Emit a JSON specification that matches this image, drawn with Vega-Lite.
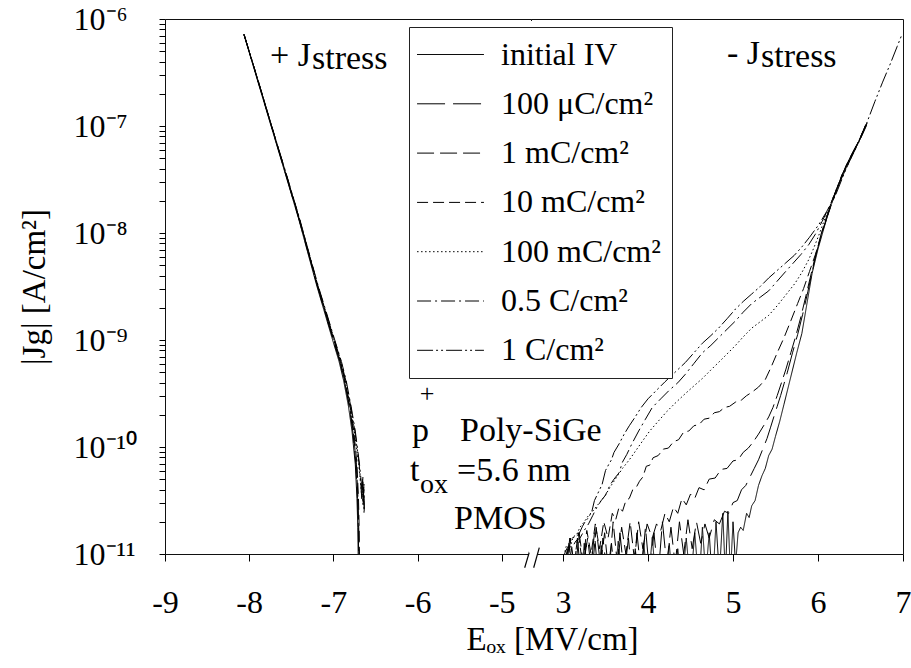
{
"$schema": "https://vega.github.io/schema/vega-lite/v6.json",
"background": "white",
"padding": {"left": 17, "top": 2, "right": 0, "bottom": 0},
"bounds": "flush",
"spacing": 0,
"config": {
  "font": "Liberation Serif",
  "view": {"stroke": "#111", "strokeWidth": 1},
  "axis": {"labelFont": "Liberation Serif", "labelFontSize": 32, "labelColor": "#000", "titleFont": "Liberation Serif", "titleFontSize": 33, "titleFontWeight": "normal", "titleColor": "#000", "tickColor": "#000", "domain": false, "grid": false, "labelFlush": false, "labelOverlap": false},
  "legend": {"padding": 11, "strokeColor": "#222", "fillColor": "white", "labelFont": "Liberation Serif", "labelFontSize": 32, "labelColor": "#000", "labelLimit": 400, "labelOffset": 34, "symbolOffset": 14, "symbolType": "M-2.09,0H2.09", "symbolSize": 1024, "symbolStrokeWidth": 1, "symbolStrokeColor": "#000", "symbolFillColor": "transparent", "rowPadding": 16.3}
},
"resolve": {"scale": {"strokeDash": "shared"}, "legend": {"strokeDash": "shared"}},
"datasets": {
  "left": [
{"series":"initial IV","E":-8.065,"J":7.24e-7},{"series":"initial IV","E":-7.899,"J":2.63e-7},{"series":"initial IV","E":-7.729,"J":9.33e-8},{"series":"initial IV","E":-7.581,"J":3.80e-8},{"series":"initial IV","E":-7.412,"J":1.35e-8},{"series":"initial IV","E":-7.309,"J":6.76e-9},{"series":"initial IV","E":-7.195,"J":3.16e-9},{"series":"initial IV","E":-7.109,"J":1.86e-9},{"series":"initial IV","E":-7.017,"J":1.05e-9},{"series":"initial IV","E":-6.933,"J":6.31e-10},{"series":"initial IV","E":-6.878,"J":4.17e-10},{"series":"initial IV","E":-6.821,"J":2.40e-10},{"series":"initial IV","E":-6.779,"J":1.41e-10},{"series":"initial IV","E":-6.740,"J":6.92e-11},{"series":"initial IV","E":-6.720,"J":3.31e-11},{"series":"initial IV","E":-6.710,"J":1.78e-11},{"series":"initial IV","E":-6.704,"J":7.94e-12},
{"series":"100 μC/cm²","E":-8.062,"J":7.24e-7},{"series":"100 μC/cm²","E":-7.896,"J":2.63e-7},{"series":"100 μC/cm²","E":-7.726,"J":9.33e-8},{"series":"100 μC/cm²","E":-7.578,"J":3.80e-8},{"series":"100 μC/cm²","E":-7.409,"J":1.35e-8},{"series":"100 μC/cm²","E":-7.305,"J":6.76e-9},{"series":"100 μC/cm²","E":-7.190,"J":3.16e-9},{"series":"100 μC/cm²","E":-7.103,"J":1.86e-9},{"series":"100 μC/cm²","E":-7.010,"J":1.05e-9},{"series":"100 μC/cm²","E":-6.925,"J":6.31e-10},{"series":"100 μC/cm²","E":-6.870,"J":4.17e-10},{"series":"100 μC/cm²","E":-6.812,"J":2.40e-10},{"series":"100 μC/cm²","E":-6.770,"J":1.41e-10},{"series":"100 μC/cm²","E":-6.733,"J":6.92e-11},{"series":"100 μC/cm²","E":-6.714,"J":3.31e-11},{"series":"100 μC/cm²","E":-6.704,"J":1.78e-11},{"series":"100 μC/cm²","E":-6.699,"J":7.94e-12},
{"series":"1 mC/cm²","E":-8.060,"J":7.10e-7},{"series":"1 mC/cm²","E":-7.893,"J":2.63e-7},{"series":"1 mC/cm²","E":-7.723,"J":9.33e-8},{"series":"1 mC/cm²","E":-7.575,"J":3.80e-8},{"series":"1 mC/cm²","E":-7.405,"J":1.35e-8},{"series":"1 mC/cm²","E":-7.301,"J":6.76e-9},{"series":"1 mC/cm²","E":-7.186,"J":3.16e-9},{"series":"1 mC/cm²","E":-7.099,"J":1.86e-9},{"series":"1 mC/cm²","E":-7.006,"J":1.05e-9},{"series":"1 mC/cm²","E":-6.921,"J":6.31e-10},{"series":"1 mC/cm²","E":-6.866,"J":4.17e-10},{"series":"1 mC/cm²","E":-6.808,"J":2.40e-10},{"series":"1 mC/cm²","E":-6.765,"J":1.41e-10},{"series":"1 mC/cm²","E":-6.727,"J":6.92e-11},{"series":"1 mC/cm²","E":-6.708,"J":3.31e-11},{"series":"1 mC/cm²","E":-6.699,"J":1.78e-11},{"series":"1 mC/cm²","E":-6.694,"J":7.94e-12},
{"series":"10 mC/cm²","E":-8.062,"J":7.20e-7},{"series":"10 mC/cm²","E":-7.894,"J":2.63e-7},{"series":"10 mC/cm²","E":-7.722,"J":9.33e-8},{"series":"10 mC/cm²","E":-7.573,"J":3.80e-8},{"series":"10 mC/cm²","E":-7.403,"J":1.35e-8},{"series":"10 mC/cm²","E":-7.298,"J":6.76e-9},{"series":"10 mC/cm²","E":-7.183,"J":3.16e-9},{"series":"10 mC/cm²","E":-7.095,"J":1.86e-9},{"series":"10 mC/cm²","E":-7.001,"J":1.05e-9},{"series":"10 mC/cm²","E":-6.916,"J":6.31e-10},{"series":"10 mC/cm²","E":-6.860,"J":4.17e-10},{"series":"10 mC/cm²","E":-6.801,"J":2.40e-10},{"series":"10 mC/cm²","E":-6.758,"J":1.41e-10},{"series":"10 mC/cm²","E":-6.720,"J":6.92e-11},{"series":"10 mC/cm²","E":-6.702,"J":3.31e-11},{"series":"10 mC/cm²","E":-6.694,"J":1.78e-11},{"series":"10 mC/cm²","E":-6.690,"J":7.94e-12},
{"series":"100 mC/cm²","E":-8.060,"J":7.08e-7},{"series":"100 mC/cm²","E":-7.895,"J":2.63e-7},{"series":"100 mC/cm²","E":-7.725,"J":9.33e-8},{"series":"100 mC/cm²","E":-7.577,"J":3.80e-8},{"series":"100 mC/cm²","E":-7.408,"J":1.35e-8},{"series":"100 mC/cm²","E":-7.303,"J":6.76e-9},{"series":"100 mC/cm²","E":-7.188,"J":3.16e-9},{"series":"100 mC/cm²","E":-7.100,"J":1.86e-9},{"series":"100 mC/cm²","E":-7.005,"J":1.05e-9},{"series":"100 mC/cm²","E":-6.918,"J":6.31e-10},{"series":"100 mC/cm²","E":-6.862,"J":4.17e-10},{"series":"100 mC/cm²","E":-6.800,"J":2.40e-10},{"series":"100 mC/cm²","E":-6.752,"J":1.41e-10},{"series":"100 mC/cm²","E":-6.700,"J":6.92e-11},{"series":"100 mC/cm²","E":-6.680,"J":4.79e-11},{"series":"100 mC/cm²","E":-6.665,"J":3.55e-11},{"series":"100 mC/cm²","E":-6.655,"J":5.01e-11},{"series":"100 mC/cm²","E":-6.648,"J":2.82e-11},{"series":"100 mC/cm²","E":-6.642,"J":3.98e-11},{"series":"100 mC/cm²","E":-6.636,"J":2.40e-11},
{"series":"0.5 C/cm²","E":-8.058,"J":7.00e-7},{"series":"0.5 C/cm²","E":-7.890,"J":2.60e-7},{"series":"0.5 C/cm²","E":-7.720,"J":9.20e-8},{"series":"0.5 C/cm²","E":-7.570,"J":3.80e-8},{"series":"0.5 C/cm²","E":-7.400,"J":1.35e-8},{"series":"0.5 C/cm²","E":-7.295,"J":6.76e-9},{"series":"0.5 C/cm²","E":-7.178,"J":3.16e-9},{"series":"0.5 C/cm²","E":-7.088,"J":1.86e-9},{"series":"0.5 C/cm²","E":-6.992,"J":1.05e-9},{"series":"0.5 C/cm²","E":-6.905,"J":6.31e-10},{"series":"0.5 C/cm²","E":-6.848,"J":4.17e-10},{"series":"0.5 C/cm²","E":-6.790,"J":2.40e-10},{"series":"0.5 C/cm²","E":-6.740,"J":1.41e-10},{"series":"0.5 C/cm²","E":-6.690,"J":6.92e-11},{"series":"0.5 C/cm²","E":-6.670,"J":4.79e-11},{"series":"0.5 C/cm²","E":-6.658,"J":3.55e-11},{"series":"0.5 C/cm²","E":-6.650,"J":5.20e-11},{"series":"0.5 C/cm²","E":-6.644,"J":2.90e-11},{"series":"0.5 C/cm²","E":-6.638,"J":4.50e-11},{"series":"0.5 C/cm²","E":-6.632,"J":2.60e-11},
{"series":"1 C/cm²","E":-8.060,"J":7.10e-7},{"series":"1 C/cm²","E":-7.892,"J":2.62e-7},{"series":"1 C/cm²","E":-7.722,"J":9.30e-8},{"series":"1 C/cm²","E":-7.572,"J":3.80e-8},{"series":"1 C/cm²","E":-7.403,"J":1.35e-8},{"series":"1 C/cm²","E":-7.298,"J":6.76e-9},{"series":"1 C/cm²","E":-7.182,"J":3.16e-9},{"series":"1 C/cm²","E":-7.092,"J":1.86e-9},{"series":"1 C/cm²","E":-6.996,"J":1.05e-9},{"series":"1 C/cm²","E":-6.910,"J":6.31e-10},{"series":"1 C/cm²","E":-6.852,"J":4.17e-10},{"series":"1 C/cm²","E":-6.794,"J":2.40e-10},{"series":"1 C/cm²","E":-6.745,"J":1.41e-10},{"series":"1 C/cm²","E":-6.694,"J":6.92e-11},{"series":"1 C/cm²","E":-6.675,"J":4.60e-11},{"series":"1 C/cm²","E":-6.662,"J":3.20e-11},{"series":"1 C/cm²","E":-6.653,"J":4.80e-11},{"series":"1 C/cm²","E":-6.647,"J":3.00e-11},{"series":"1 C/cm²","E":-6.641,"J":4.20e-11},{"series":"1 C/cm²","E":-6.634,"J":2.50e-11}
  ],
  "right": [
{"series":"initial IV","E":3.00,"J":5.01e-12},{"series":"initial IV","E":3.05,"J":1.12e-11},{"series":"initial IV","E":3.10,"J":5.01e-12},{"series":"initial IV","E":3.15,"J":1.00e-11},{"series":"initial IV","E":3.20,"J":3.98e-12},{"series":"initial IV","E":3.25,"J":1.26e-11},{"series":"initial IV","E":3.30,"J":5.01e-12},{"series":"initial IV","E":3.35,"J":8.91e-12},{"series":"initial IV","E":3.40,"J":3.98e-12},{"series":"initial IV","E":3.45,"J":1.20e-11},{"series":"initial IV","E":3.50,"J":5.01e-12},{"series":"initial IV","E":3.55,"J":7.94e-12},{"series":"initial IV","E":3.60,"J":5.01e-12},{"series":"initial IV","E":3.65,"J":1.32e-11},{"series":"initial IV","E":3.70,"J":5.01e-12},{"series":"initial IV","E":3.75,"J":1.00e-11},{"series":"initial IV","E":3.80,"J":3.98e-12},{"series":"initial IV","E":3.85,"J":1.12e-11},{"series":"initial IV","E":3.90,"J":5.01e-12},{"series":"initial IV","E":3.95,"J":1.26e-11},{"series":"initial IV","E":4.00,"J":5.01e-12},{"series":"initial IV","E":4.05,"J":1.41e-11},{"series":"initial IV","E":4.10,"J":5.01e-12},{"series":"initial IV","E":4.15,"J":1.00e-11},{"series":"initial IV","E":4.20,"J":5.01e-12},{"series":"initial IV","E":4.25,"J":1.26e-11},{"series":"initial IV","E":4.30,"J":3.98e-12},{"series":"initial IV","E":4.35,"J":1.12e-11},{"series":"initial IV","E":4.40,"J":5.01e-12},{"series":"initial IV","E":4.45,"J":1.41e-11},{"series":"initial IV","E":4.50,"J":5.01e-12},{"series":"initial IV","E":4.55,"J":1.58e-11},{"series":"initial IV","E":4.60,"J":5.01e-12},{"series":"initial IV","E":4.64,"J":1.78e-11},{"series":"initial IV","E":4.68,"J":6.31e-12},{"series":"initial IV","E":4.72,"J":1.58e-11},{"series":"initial IV","E":4.76,"J":5.01e-12},{"series":"initial IV","E":4.80,"J":2.00e-11},{"series":"initial IV","E":4.84,"J":6.31e-12},{"series":"initial IV","E":4.88,"J":2.40e-11},{"series":"initial IV","E":4.91,"J":6.31e-12},{"series":"initial IV","E":4.94,"J":2.51e-11},{"series":"initial IV","E":4.97,"J":6.31e-12},{"series":"initial IV","E":5.00,"J":2.00e-11},{"series":"initial IV","E":5.03,"J":7.94e-12},{"series":"initial IV","E":5.06,"J":1.58e-11},{"series":"initial IV","E":5.09,"J":1.78e-11},{"series":"initial IV","E":5.12,"J":1.66e-11},{"series":"initial IV","E":5.16,"J":2.40e-11},{"series":"initial IV","E":5.19,"J":2.19e-11},{"series":"initial IV","E":5.22,"J":2.82e-11},{"series":"initial IV","E":5.26,"J":3.16e-11},{"series":"initial IV","E":5.30,"J":4.37e-11},{"series":"initial IV","E":5.34,"J":5.37e-11},{"series":"initial IV","E":5.38,"J":6.31e-11},{"series":"initial IV","E":5.42,"J":8.32e-11},{"series":"initial IV","E":5.46,"J":9.55e-11},{"series":"initial IV","E":5.50,"J":1.26e-10},{"series":"initial IV","E":5.55,"J":1.74e-10},{"series":"initial IV","E":5.60,"J":2.51e-10},{"series":"initial IV","E":5.65,"J":3.63e-10},{"series":"initial IV","E":5.70,"J":5.25e-10},{"series":"initial IV","E":5.75,"J":7.59e-10},{"series":"initial IV","E":5.81,"J":1.15e-9},{"series":"initial IV","E":5.87,"J":2.19e-9},{"series":"initial IV","E":5.93,"J":4.17e-9},{"series":"initial IV","E":6.00,"J":7.08e-9},{"series":"initial IV","E":6.05,"J":9.77e-9},{"series":"initial IV","E":6.13,"J":1.62e-8},{"series":"initial IV","E":6.22,"J":2.51e-8},{"series":"initial IV","E":6.32,"J":4.07e-8},{"series":"initial IV","E":6.40,"J":5.37e-8},{"series":"initial IV","E":6.48,"J":7.08e-8},{"series":"initial IV","E":6.58,"J":1.07e-7},
{"series":"100 μC/cm²","E":3.02,"J":5.01e-12},{"series":"100 μC/cm²","E":3.07,"J":1.26e-11},{"series":"100 μC/cm²","E":3.12,"J":6.31e-12},{"series":"100 μC/cm²","E":3.17,"J":1.41e-11},{"series":"100 μC/cm²","E":3.22,"J":5.01e-12},{"series":"100 μC/cm²","E":3.27,"J":1.26e-11},{"series":"100 μC/cm²","E":3.32,"J":6.31e-12},{"series":"100 μC/cm²","E":3.37,"J":1.58e-11},{"series":"100 μC/cm²","E":3.42,"J":5.01e-12},{"series":"100 μC/cm²","E":3.47,"J":1.41e-11},{"series":"100 μC/cm²","E":3.52,"J":6.31e-12},{"series":"100 μC/cm²","E":3.57,"J":1.26e-11},{"series":"100 μC/cm²","E":3.62,"J":5.01e-12},{"series":"100 μC/cm²","E":3.67,"J":1.58e-11},{"series":"100 μC/cm²","E":3.72,"J":6.31e-12},{"series":"100 μC/cm²","E":3.77,"J":1.41e-11},{"series":"100 μC/cm²","E":3.82,"J":5.01e-12},{"series":"100 μC/cm²","E":3.87,"J":1.58e-11},{"series":"100 μC/cm²","E":3.92,"J":6.31e-12},{"series":"100 μC/cm²","E":3.97,"J":1.78e-11},{"series":"100 μC/cm²","E":4.02,"J":6.31e-12},{"series":"100 μC/cm²","E":4.07,"J":1.58e-11},{"series":"100 μC/cm²","E":4.12,"J":6.31e-12},{"series":"100 μC/cm²","E":4.17,"J":2.00e-11},{"series":"100 μC/cm²","E":4.22,"J":7.94e-12},{"series":"100 μC/cm²","E":4.27,"J":1.78e-11},{"series":"100 μC/cm²","E":4.32,"J":7.94e-12},{"series":"100 μC/cm²","E":4.37,"J":2.00e-11},{"series":"100 μC/cm²","E":4.42,"J":1.00e-11},{"series":"100 μC/cm²","E":4.47,"J":2.09e-11},{"series":"100 μC/cm²","E":4.52,"J":1.12e-11},{"series":"100 μC/cm²","E":4.57,"J":2.00e-11},{"series":"100 μC/cm²","E":4.62,"J":1.26e-11},{"series":"100 μC/cm²","E":4.67,"J":1.91e-11},{"series":"100 μC/cm²","E":4.72,"J":1.41e-11},{"series":"100 μC/cm²","E":4.78,"J":2.09e-11},{"series":"100 μC/cm²","E":4.84,"J":1.91e-11},{"series":"100 μC/cm²","E":4.90,"J":2.51e-11},{"series":"100 μC/cm²","E":4.95,"J":2.40e-11},{"series":"100 μC/cm²","E":5.00,"J":3.02e-11},{"series":"100 μC/cm²","E":5.05,"J":3.16e-11},{"series":"100 μC/cm²","E":5.10,"J":3.98e-11},{"series":"100 μC/cm²","E":5.15,"J":4.37e-11},{"series":"100 μC/cm²","E":5.20,"J":5.25e-11},{"series":"100 μC/cm²","E":5.25,"J":6.31e-11},{"series":"100 μC/cm²","E":5.30,"J":7.59e-11},{"series":"100 μC/cm²","E":5.35,"J":9.55e-11},{"series":"100 μC/cm²","E":5.40,"J":1.20e-10},{"series":"100 μC/cm²","E":5.44,"J":1.51e-10},{"series":"100 μC/cm²","E":5.48,"J":1.91e-10},{"series":"100 μC/cm²","E":5.52,"J":2.40e-10},{"series":"100 μC/cm²","E":5.56,"J":3.02e-10},{"series":"100 μC/cm²","E":5.60,"J":3.89e-10},{"series":"100 μC/cm²","E":5.64,"J":5.01e-10},{"series":"100 μC/cm²","E":5.70,"J":7.59e-10},{"series":"100 μC/cm²","E":5.76,"J":1.12e-9},{"series":"100 μC/cm²","E":5.82,"J":1.74e-9},{"series":"100 μC/cm²","E":5.88,"J":2.82e-9},{"series":"100 μC/cm²","E":5.94,"J":4.68e-9},{"series":"100 μC/cm²","E":6.00,"J":7.41e-9},{"series":"100 μC/cm²","E":6.06,"J":1.10e-8},{"series":"100 μC/cm²","E":6.12,"J":1.51e-8},{"series":"100 μC/cm²","E":6.20,"J":2.34e-8},{"series":"100 μC/cm²","E":6.30,"J":3.80e-8},{"series":"100 μC/cm²","E":6.40,"J":5.50e-8},{"series":"100 μC/cm²","E":6.48,"J":7.24e-8},{"series":"100 μC/cm²","E":6.57,"J":1.05e-7},
{"series":"1 mC/cm²","E":3.04,"J":6.31e-12},{"series":"1 mC/cm²","E":3.09,"J":1.41e-11},{"series":"1 mC/cm²","E":3.14,"J":6.31e-12},{"series":"1 mC/cm²","E":3.19,"J":1.58e-11},{"series":"1 mC/cm²","E":3.24,"J":7.94e-12},{"series":"1 mC/cm²","E":3.29,"J":1.41e-11},{"series":"1 mC/cm²","E":3.34,"J":6.31e-12},{"series":"1 mC/cm²","E":3.39,"J":1.78e-11},{"series":"1 mC/cm²","E":3.44,"J":7.94e-12},{"series":"1 mC/cm²","E":3.49,"J":1.58e-11},{"series":"1 mC/cm²","E":3.54,"J":6.31e-12},{"series":"1 mC/cm²","E":3.59,"J":2.00e-11},{"series":"1 mC/cm²","E":3.64,"J":7.94e-12},{"series":"1 mC/cm²","E":3.69,"J":1.78e-11},{"series":"1 mC/cm²","E":3.74,"J":1.00e-11},{"series":"1 mC/cm²","E":3.79,"J":2.00e-11},{"series":"1 mC/cm²","E":3.84,"J":8.91e-12},{"series":"1 mC/cm²","E":3.89,"J":2.00e-11},{"series":"1 mC/cm²","E":3.94,"J":1.12e-11},{"series":"1 mC/cm²","E":3.99,"J":1.91e-11},{"series":"1 mC/cm²","E":4.05,"J":1.41e-11},{"series":"1 mC/cm²","E":4.10,"J":1.91e-11},{"series":"1 mC/cm²","E":4.15,"J":1.66e-11},{"series":"1 mC/cm²","E":4.20,"J":2.40e-11},{"series":"1 mC/cm²","E":4.25,"J":2.00e-11},{"series":"1 mC/cm²","E":4.30,"J":2.75e-11},{"series":"1 mC/cm²","E":4.35,"J":2.40e-11},{"series":"1 mC/cm²","E":4.40,"J":3.31e-11},{"series":"1 mC/cm²","E":4.45,"J":2.88e-11},{"series":"1 mC/cm²","E":4.50,"J":3.63e-11},{"series":"1 mC/cm²","E":4.55,"J":3.31e-11},{"series":"1 mC/cm²","E":4.60,"J":4.17e-11},{"series":"1 mC/cm²","E":4.66,"J":3.98e-11},{"series":"1 mC/cm²","E":4.72,"J":5.01e-11},{"series":"1 mC/cm²","E":4.79,"J":5.13e-11},{"series":"1 mC/cm²","E":4.86,"J":6.17e-11},{"series":"1 mC/cm²","E":4.93,"J":6.31e-11},{"series":"1 mC/cm²","E":5.00,"J":7.41e-11},{"series":"1 mC/cm²","E":5.06,"J":7.59e-11},{"series":"1 mC/cm²","E":5.12,"J":8.91e-11},{"series":"1 mC/cm²","E":5.18,"J":9.77e-11},{"series":"1 mC/cm²","E":5.24,"J":1.12e-10},{"series":"1 mC/cm²","E":5.30,"J":1.32e-10},{"series":"1 mC/cm²","E":5.36,"J":1.58e-10},{"series":"1 mC/cm²","E":5.42,"J":1.91e-10},{"series":"1 mC/cm²","E":5.47,"J":2.34e-10},{"series":"1 mC/cm²","E":5.52,"J":3.02e-10},{"series":"1 mC/cm²","E":5.57,"J":3.98e-10},{"series":"1 mC/cm²","E":5.62,"J":5.25e-10},{"series":"1 mC/cm²","E":5.68,"J":7.59e-10},{"series":"1 mC/cm²","E":5.74,"J":1.10e-9},{"series":"1 mC/cm²","E":5.80,"J":1.66e-9},{"series":"1 mC/cm²","E":5.86,"J":2.63e-9},{"series":"1 mC/cm²","E":5.92,"J":4.17e-9},{"series":"1 mC/cm²","E":5.98,"J":6.61e-9},{"series":"1 mC/cm²","E":6.04,"J":1.00e-8},{"series":"1 mC/cm²","E":6.10,"J":1.41e-8},{"series":"1 mC/cm²","E":6.18,"J":2.14e-8},{"series":"1 mC/cm²","E":6.28,"J":3.47e-8},{"series":"1 mC/cm²","E":6.38,"J":5.13e-8},{"series":"1 mC/cm²","E":6.48,"J":7.24e-8},{"series":"1 mC/cm²","E":6.56,"J":1.02e-7},
{"series":"10 mC/cm²","E":3.03,"J":6.31e-12},{"series":"10 mC/cm²","E":3.08,"J":1.41e-11},{"series":"10 mC/cm²","E":3.13,"J":7.94e-12},{"series":"10 mC/cm²","E":3.18,"J":1.58e-11},{"series":"10 mC/cm²","E":3.23,"J":7.94e-12},{"series":"10 mC/cm²","E":3.28,"J":1.66e-11},{"series":"10 mC/cm²","E":3.33,"J":1.00e-11},{"series":"10 mC/cm²","E":3.38,"J":1.91e-11},{"series":"10 mC/cm²","E":3.43,"J":1.12e-11},{"series":"10 mC/cm²","E":3.48,"J":2.00e-11},{"series":"10 mC/cm²","E":3.53,"J":1.41e-11},{"series":"10 mC/cm²","E":3.58,"J":2.40e-11},{"series":"10 mC/cm²","E":3.62,"J":2.09e-11},{"series":"10 mC/cm²","E":3.66,"J":2.75e-11},{"series":"10 mC/cm²","E":3.70,"J":2.51e-11},{"series":"10 mC/cm²","E":3.74,"J":3.16e-11},{"series":"10 mC/cm²","E":3.78,"J":3.31e-11},{"series":"10 mC/cm²","E":3.82,"J":3.98e-11},{"series":"10 mC/cm²","E":3.86,"J":4.17e-11},{"series":"10 mC/cm²","E":3.90,"J":4.79e-11},{"series":"10 mC/cm²","E":3.94,"J":5.25e-11},{"series":"10 mC/cm²","E":3.98,"J":6.61e-11},{"series":"10 mC/cm²","E":4.02,"J":6.76e-11},{"series":"10 mC/cm²","E":4.06,"J":7.94e-11},{"series":"10 mC/cm²","E":4.12,"J":8.32e-11},{"series":"10 mC/cm²","E":4.18,"J":9.55e-11},{"series":"10 mC/cm²","E":4.24,"J":9.77e-11},{"series":"10 mC/cm²","E":4.30,"J":1.12e-10},{"series":"10 mC/cm²","E":4.36,"J":1.17e-10},{"series":"10 mC/cm²","E":4.42,"J":1.38e-10},{"series":"10 mC/cm²","E":4.48,"J":1.41e-10},{"series":"10 mC/cm²","E":4.54,"J":1.58e-10},{"series":"10 mC/cm²","E":4.60,"J":1.62e-10},{"series":"10 mC/cm²","E":4.66,"J":1.82e-10},{"series":"10 mC/cm²","E":4.72,"J":1.86e-10},{"series":"10 mC/cm²","E":4.78,"J":2.09e-10},{"series":"10 mC/cm²","E":4.84,"J":2.14e-10},{"series":"10 mC/cm²","E":4.90,"J":2.34e-10},{"series":"10 mC/cm²","E":4.96,"J":2.40e-10},{"series":"10 mC/cm²","E":5.03,"J":2.63e-10},{"series":"10 mC/cm²","E":5.10,"J":2.75e-10},{"series":"10 mC/cm²","E":5.16,"J":3.02e-10},{"series":"10 mC/cm²","E":5.22,"J":3.24e-10},{"series":"10 mC/cm²","E":5.30,"J":3.63e-10},{"series":"10 mC/cm²","E":5.38,"J":4.27e-10},{"series":"10 mC/cm²","E":5.45,"J":5.62e-10},{"series":"10 mC/cm²","E":5.52,"J":7.59e-10},{"series":"10 mC/cm²","E":5.60,"J":1.05e-9},{"series":"10 mC/cm²","E":5.68,"J":1.51e-9},{"series":"10 mC/cm²","E":5.76,"J":2.19e-9},{"series":"10 mC/cm²","E":5.83,"J":3.02e-9},{"series":"10 mC/cm²","E":5.90,"J":4.37e-9},{"series":"10 mC/cm²","E":5.97,"J":6.31e-9},{"series":"10 mC/cm²","E":6.04,"J":9.55e-9},{"series":"10 mC/cm²","E":6.10,"J":1.35e-8},{"series":"10 mC/cm²","E":6.18,"J":2.09e-8},{"series":"10 mC/cm²","E":6.28,"J":3.39e-8},{"series":"10 mC/cm²","E":6.38,"J":5.01e-8},{"series":"10 mC/cm²","E":6.48,"J":7.24e-8},{"series":"10 mC/cm²","E":6.56,"J":1.02e-7},
{"series":"100 mC/cm²","E":3.00,"J":8.91e-12},{"series":"100 mC/cm²","E":3.04,"J":1.20e-11},{"series":"100 mC/cm²","E":3.08,"J":1.12e-11},{"series":"100 mC/cm²","E":3.12,"J":1.45e-11},{"series":"100 mC/cm²","E":3.16,"J":1.51e-11},{"series":"100 mC/cm²","E":3.20,"J":1.78e-11},{"series":"100 mC/cm²","E":3.25,"J":2.00e-11},{"series":"100 mC/cm²","E":3.30,"J":2.29e-11},{"series":"100 mC/cm²","E":3.35,"J":2.51e-11},{"series":"100 mC/cm²","E":3.40,"J":2.82e-11},{"series":"100 mC/cm²","E":3.45,"J":3.16e-11},{"series":"100 mC/cm²","E":3.50,"J":3.55e-11},{"series":"100 mC/cm²","E":3.55,"J":4.17e-11},{"series":"100 mC/cm²","E":3.60,"J":4.79e-11},{"series":"100 mC/cm²","E":3.65,"J":5.50e-11},{"series":"100 mC/cm²","E":3.70,"J":6.31e-11},{"series":"100 mC/cm²","E":3.78,"J":7.59e-11},{"series":"100 mC/cm²","E":3.86,"J":9.33e-11},{"series":"100 mC/cm²","E":3.94,"J":1.15e-10},{"series":"100 mC/cm²","E":4.02,"J":1.41e-10},{"series":"100 mC/cm²","E":4.12,"J":1.74e-10},{"series":"100 mC/cm²","E":4.22,"J":2.14e-10},{"series":"100 mC/cm²","E":4.32,"J":2.57e-10},{"series":"100 mC/cm²","E":4.44,"J":3.16e-10},{"series":"100 mC/cm²","E":4.54,"J":3.72e-10},{"series":"100 mC/cm²","E":4.64,"J":4.37e-10},{"series":"100 mC/cm²","E":4.74,"J":5.25e-10},{"series":"100 mC/cm²","E":4.83,"J":6.17e-10},{"series":"100 mC/cm²","E":4.93,"J":7.41e-10},{"series":"100 mC/cm²","E":5.03,"J":8.91e-10},{"series":"100 mC/cm²","E":5.12,"J":1.07e-9},{"series":"100 mC/cm²","E":5.22,"J":1.29e-9},{"series":"100 mC/cm²","E":5.32,"J":1.48e-9},{"series":"100 mC/cm²","E":5.42,"J":1.70e-9},{"series":"100 mC/cm²","E":5.52,"J":2.09e-9},{"series":"100 mC/cm²","E":5.62,"J":2.63e-9},{"series":"100 mC/cm²","E":5.73,"J":3.39e-9},{"series":"100 mC/cm²","E":5.81,"J":4.27e-9},{"series":"100 mC/cm²","E":5.89,"J":5.62e-9},{"series":"100 mC/cm²","E":5.95,"J":7.24e-9},{"series":"100 mC/cm²","E":6.01,"J":9.55e-9},{"series":"100 mC/cm²","E":6.07,"J":1.29e-8},{"series":"100 mC/cm²","E":6.13,"J":1.70e-8},{"series":"100 mC/cm²","E":6.20,"J":2.40e-8},{"series":"100 mC/cm²","E":6.28,"J":3.39e-8},{"series":"100 mC/cm²","E":6.38,"J":5.01e-8},{"series":"100 mC/cm²","E":6.48,"J":7.24e-8},{"series":"100 mC/cm²","E":6.57,"J":1.05e-7},
{"series":"0.5 C/cm²","E":3.00,"J":7.94e-12},{"series":"0.5 C/cm²","E":3.05,"J":1.05e-11},{"series":"0.5 C/cm²","E":3.10,"J":1.12e-11},{"series":"0.5 C/cm²","E":3.15,"J":1.32e-11},{"series":"0.5 C/cm²","E":3.20,"J":1.41e-11},{"series":"0.5 C/cm²","E":3.25,"J":1.66e-11},{"series":"0.5 C/cm²","E":3.30,"J":1.91e-11},{"series":"0.5 C/cm²","E":3.35,"J":2.29e-11},{"series":"0.5 C/cm²","E":3.40,"J":2.75e-11},{"series":"0.5 C/cm²","E":3.45,"J":3.16e-11},{"series":"0.5 C/cm²","E":3.50,"J":3.55e-11},{"series":"0.5 C/cm²","E":3.55,"J":4.37e-11},{"series":"0.5 C/cm²","E":3.60,"J":5.01e-11},{"series":"0.5 C/cm²","E":3.66,"J":5.75e-11},{"series":"0.5 C/cm²","E":3.70,"J":7.24e-11},{"series":"0.5 C/cm²","E":3.75,"J":8.51e-11},{"series":"0.5 C/cm²","E":3.81,"J":1.07e-10},{"series":"0.5 C/cm²","E":3.89,"J":1.41e-10},{"series":"0.5 C/cm²","E":3.97,"J":1.82e-10},{"series":"0.5 C/cm²","E":4.05,"J":2.34e-10},{"series":"0.5 C/cm²","E":4.15,"J":2.82e-10},{"series":"0.5 C/cm²","E":4.25,"J":3.39e-10},{"series":"0.5 C/cm²","E":4.35,"J":3.98e-10},{"series":"0.5 C/cm²","E":4.44,"J":4.79e-10},{"series":"0.5 C/cm²","E":4.54,"J":6.03e-10},{"series":"0.5 C/cm²","E":4.64,"J":7.59e-10},{"series":"0.5 C/cm²","E":4.74,"J":8.91e-10},{"series":"0.5 C/cm²","E":4.83,"J":1.05e-9},{"series":"0.5 C/cm²","E":4.93,"J":1.26e-9},{"series":"0.5 C/cm²","E":5.03,"J":1.51e-9},{"series":"0.5 C/cm²","E":5.12,"J":1.82e-9},{"series":"0.5 C/cm²","E":5.22,"J":2.19e-9},{"series":"0.5 C/cm²","E":5.32,"J":2.51e-9},{"series":"0.5 C/cm²","E":5.42,"J":2.88e-9},{"series":"0.5 C/cm²","E":5.52,"J":3.55e-9},{"series":"0.5 C/cm²","E":5.62,"J":4.37e-9},{"series":"0.5 C/cm²","E":5.71,"J":5.25e-9},{"series":"0.5 C/cm²","E":5.80,"J":6.31e-9},{"series":"0.5 C/cm²","E":5.89,"J":7.76e-9},{"series":"0.5 C/cm²","E":5.97,"J":9.77e-9},{"series":"0.5 C/cm²","E":6.05,"J":1.29e-8},{"series":"0.5 C/cm²","E":6.13,"J":1.74e-8},{"series":"0.5 C/cm²","E":6.21,"J":2.45e-8},{"series":"0.5 C/cm²","E":6.30,"J":3.55e-8},{"series":"0.5 C/cm²","E":6.40,"J":5.25e-8},{"series":"0.5 C/cm²","E":6.50,"J":7.59e-8},{"series":"0.5 C/cm²","E":6.58,"J":1.05e-7},
{"series":"1 C/cm²","E":3.00,"J":8.91e-12},{"series":"1 C/cm²","E":3.03,"J":1.07e-11},{"series":"1 C/cm²","E":3.07,"J":1.20e-11},{"series":"1 C/cm²","E":3.10,"J":1.41e-11},{"series":"1 C/cm²","E":3.15,"J":1.45e-11},{"series":"1 C/cm²","E":3.19,"J":1.55e-11},{"series":"1 C/cm²","E":3.23,"J":1.82e-11},{"series":"1 C/cm²","E":3.26,"J":2.00e-11},{"series":"1 C/cm²","E":3.30,"J":2.19e-11},{"series":"1 C/cm²","E":3.34,"J":2.51e-11},{"series":"1 C/cm²","E":3.37,"J":3.16e-11},{"series":"1 C/cm²","E":3.40,"J":3.55e-11},{"series":"1 C/cm²","E":3.43,"J":3.98e-11},{"series":"1 C/cm²","E":3.46,"J":4.47e-11},{"series":"1 C/cm²","E":3.50,"J":6.03e-11},{"series":"1 C/cm²","E":3.54,"J":6.92e-11},{"series":"1 C/cm²","E":3.57,"J":7.59e-11},{"series":"1 C/cm²","E":3.60,"J":8.91e-11},{"series":"1 C/cm²","E":3.66,"J":1.07e-10},{"series":"1 C/cm²","E":3.72,"J":1.32e-10},{"series":"1 C/cm²","E":3.78,"J":1.58e-10},{"series":"1 C/cm²","E":3.84,"J":1.86e-10},{"series":"1 C/cm²","E":3.92,"J":2.34e-10},{"series":"1 C/cm²","E":4.00,"J":2.82e-10},{"series":"1 C/cm²","E":4.10,"J":3.39e-10},{"series":"1 C/cm²","E":4.20,"J":4.07e-10},{"series":"1 C/cm²","E":4.32,"J":5.01e-10},{"series":"1 C/cm²","E":4.44,"J":6.17e-10},{"series":"1 C/cm²","E":4.54,"J":7.59e-10},{"series":"1 C/cm²","E":4.64,"J":9.33e-10},{"series":"1 C/cm²","E":4.74,"J":1.10e-9},{"series":"1 C/cm²","E":4.83,"J":1.29e-9},{"series":"1 C/cm²","E":4.93,"J":1.58e-9},{"series":"1 C/cm²","E":5.03,"J":1.95e-9},{"series":"1 C/cm²","E":5.12,"J":2.29e-9},{"series":"1 C/cm²","E":5.22,"J":2.69e-9},{"series":"1 C/cm²","E":5.32,"J":3.16e-9},{"series":"1 C/cm²","E":5.42,"J":3.80e-9},{"series":"1 C/cm²","E":5.52,"J":4.47e-9},{"series":"1 C/cm²","E":5.62,"J":5.25e-9},{"series":"1 C/cm²","E":5.72,"J":6.17e-9},{"series":"1 C/cm²","E":5.81,"J":7.41e-9},{"series":"1 C/cm²","E":5.90,"J":9.12e-9},{"series":"1 C/cm²","E":6.01,"J":1.20e-8},{"series":"1 C/cm²","E":6.10,"J":1.58e-8},{"series":"1 C/cm²","E":6.20,"J":2.19e-8},{"series":"1 C/cm²","E":6.32,"J":3.80e-8},{"series":"1 C/cm²","E":6.40,"J":5.25e-8},{"series":"1 C/cm²","E":6.48,"J":7.08e-8},{"series":"1 C/cm²","E":6.58,"J":1.10e-7},{"series":"1 C/cm²","E":6.67,"J":1.70e-7},{"series":"1 C/cm²","E":6.76,"J":2.57e-7},{"series":"1 C/cm²","E":6.85,"J":3.80e-7},{"series":"1 C/cm²","E":6.93,"J":5.50e-7},{"series":"1 C/cm²","E":6.99,"J":7.24e-7}
  ]
},
"hconcat": [
  {
    "width": 366, "height": 535,
    "layer": [
      {
        "data": {"name": "left"},
        "mark": {"type": "line", "clip": true, "color": "#000", "strokeWidth": 1},
        "encoding": {
          "x": {"field": "E", "type": "quantitative", "scale": {"domain": [-9, -4.653], "nice": false, "zero": false},
                "axis": {"values": [-9, -8, -7, -6, -5], "labelExpr": "'-' + abs(datum.value)", "tickSize": 7, "labelPadding": 26, "title": "Eₒₓ [MV/cm]", "titleX": 387, "titlePadding": 5}},
          "y": {"field": "J", "type": "quantitative", "scale": {"type": "log", "domain": [1e-11, 1e-6], "nice": false},
                "axis": {"values": [1e-11,2e-11,3e-11,4e-11,5e-11,6e-11,7e-11,8e-11,9e-11,1e-10,2e-10,3e-10,4e-10,5e-10,6e-10,7e-10,8e-10,9e-10,1e-9,2e-9,3e-9,4e-9,5e-9,6e-9,7e-9,8e-9,9e-9,1e-8,2e-8,3e-8,4e-8,5e-8,6e-8,7e-8,8e-8,9e-8,1e-7,2e-7,3e-7,4e-7,5e-7,6e-7,7e-7,8e-7,9e-7,1e-6],
                         "labelExpr": "datum.value == 1e-6 ? '10⁻⁶' : datum.value == 1e-7 ? '10⁻⁷' : datum.value == 1e-8 ? '10⁻⁸' : datum.value == 1e-9 ? '10⁻⁹' : datum.value == 1e-10 ? '10⁻¹⁰' : datum.value == 1e-11 ? '10⁻¹¹' : ''",
                         "tickSize": 6, "labelAlign": "left", "labelBaseline": "middle", "labelPadding": 86, "title": "|Jg| [A/cm²]", "titlePadding": 22}},
          "strokeDash": {"field": "series", "type": "nominal",
                "scale": {"domain": ["initial IV", "100 μC/cm²", "1 mC/cm²", "10 mC/cm²", "100 mC/cm²", "0.5 C/cm²", "1 C/cm²"],
                          "range": [[1, 0], [28, 8], [17, 6], [11, 5], [1.5, 2.5], [14, 4, 2, 4], [16, 3, 2, 3, 2, 3]]},
                "legend": {"orient": "none", "legendX": 244, "legendY": 8, "title": null}}
        }
      },
      {
        "data": {"values": [
          {"label": "+ J", "E": -7.753, "J": 3.63e-7},
          {"label": "stress", "E": -7.254, "J": 3.41e-7}
        ]},
        "mark": {"type": "text", "align": "left", "baseline": "alphabetic", "fontSize": 34, "font": "Liberation Serif", "fill": "#000"},
        "encoding": {
          "x": {"field": "E", "type": "quantitative", "scale": {"domain": [-9, -4.653], "nice": false, "zero": false}},
          "y": {"field": "J", "type": "quantitative", "scale": {"type": "log", "domain": [1e-11, 1e-6], "nice": false}},
          "text": {"field": "label"}
        }
      },
      {
        "data": {"values": [
          {"E": -4.653, "E2": -4.653, "J": 9.6e-7, "J2": 1.03e-11},
          {"E": -4.681, "E2": -4.653, "J": 1e-11, "J2": 1e-11}
        ]},
        "mark": {"type": "rule", "color": "white", "strokeWidth": 4},
        "encoding": {
          "x": {"field": "E", "type": "quantitative", "scale": {"domain": [-9, -4.653], "nice": false, "zero": false}},
          "x2": {"field": "E2"},
          "y": {"field": "J", "type": "quantitative", "scale": {"type": "log", "domain": [1e-11, 1e-6], "nice": false}},
          "y2": {"field": "J2"}
        }
      },
      {
        "data": {"values": [{"E": -4.728, "E2": -4.657, "J": 7.44e-12, "J2": 1.148e-11}]},
        "mark": {"type": "rule", "color": "#000", "strokeWidth": 1.2},
        "encoding": {
          "x": {"field": "E", "type": "quantitative", "scale": {"domain": [-9, -4.653], "nice": false, "zero": false}},
          "x2": {"field": "E2"},
          "y": {"field": "J", "type": "quantitative", "scale": {"type": "log", "domain": [1e-11, 1e-6], "nice": false}},
          "y2": {"field": "J2"}
        }
      }
    ]
  },
  {
    "width": 372, "height": 535,
    "layer": [
      {
        "data": {"name": "right"},
        "mark": {"type": "line", "clip": true, "color": "#000", "strokeWidth": 1},
        "encoding": {
          "x": {"field": "E", "type": "quantitative", "scale": {"domain": [2.6235, 7], "nice": false, "zero": false},
                "axis": {"values": [3, 4, 5, 6, 7], "format": "d", "tickSize": 7, "labelPadding": 26, "title": null}},
          "y": {"field": "J", "type": "quantitative", "scale": {"type": "log", "domain": [1e-11, 1e-6], "nice": false}, "axis": null},
          "strokeDash": {"field": "series", "type": "nominal",
                "scale": {"domain": ["initial IV", "100 μC/cm²", "1 mC/cm²", "10 mC/cm²", "100 mC/cm²", "0.5 C/cm²", "1 C/cm²"],
                          "range": [[1, 0], [28, 8], [17, 6], [11, 5], [1.5, 2.5], [14, 4, 2, 4], [16, 3, 2, 3, 2, 3]]},
                "legend": {"orient": "none", "legendX": 244, "legendY": 8, "title": null}}
        }
      },
      {
        "data": {"values": [
          {"E": 2.6235, "E2": 2.6235, "J": 9.6e-7, "J2": 1.03e-11},
          {"E": 2.6235, "E2": 2.703, "J": 1e-11, "J2": 1e-11}
        ]},
        "mark": {"type": "rule", "color": "white", "strokeWidth": 4},
        "encoding": {
          "x": {"field": "E", "type": "quantitative", "scale": {"domain": [2.6235, 7], "nice": false, "zero": false}},
          "x2": {"field": "E2"},
          "y": {"field": "J", "type": "quantitative", "scale": {"type": "log", "domain": [1e-11, 1e-6], "nice": false}},
          "y2": {"field": "J2"}
        }
      },
      {
        "data": {"values": [{"E": 2.655, "E2": 2.721, "J": 7.44e-12, "J2": 1.148e-11}]},
        "mark": {"type": "rule", "color": "#000", "strokeWidth": 1.2},
        "encoding": {
          "x": {"field": "E", "type": "quantitative", "scale": {"domain": [2.6235, 7], "nice": false, "zero": false}},
          "x2": {"field": "E2"},
          "y": {"field": "J", "type": "quantitative", "scale": {"type": "log", "domain": [1e-11, 1e-6], "nice": false}},
          "y2": {"field": "J2"}
        }
      },
      {
        "data": {"values": [
          {"label": "- J", "E": 4.93, "J": 3.79e-7},
          {"label": "stress", "E": 5.33, "J": 3.56e-7},
          {"label": "p", "E": 1.2235, "J": 1.14e-10},
          {"label": "Poly-SiGe", "E": 1.7882, "J": 1.14e-10},
          {"label": "t", "E": 1.2000, "J": 4.81e-11},
          {"label": "=5.6 nm", "E": 1.7529, "J": 4.81e-11},
          {"label": "PMOS", "E": 1.7176, "J": 1.71e-11}
        ]},
        "mark": {"type": "text", "align": "left", "baseline": "alphabetic", "fontSize": 34, "font": "Liberation Serif", "fill": "#000"},
        "encoding": {
          "x": {"field": "E", "type": "quantitative", "scale": {"domain": [2.6235, 7], "nice": false, "zero": false}},
          "y": {"field": "J", "type": "quantitative", "scale": {"type": "log", "domain": [1e-11, 1e-6], "nice": false}},
          "text": {"field": "label"}
        }
      },
      {
        "data": {"values": [{"label": "ox", "E": 1.3176, "J": 3.72e-11}]},
        "mark": {"type": "text", "align": "left", "baseline": "alphabetic", "fontSize": 28, "font": "Liberation Serif", "fill": "#000"},
        "encoding": {
          "x": {"field": "E", "type": "quantitative", "scale": {"domain": [2.6235, 7], "nice": false, "zero": false}},
          "y": {"field": "J", "type": "quantitative", "scale": {"type": "log", "domain": [1e-11, 1e-6], "nice": false}},
          "text": {"field": "label"}
        }
      },
      {
        "data": {"values": [{"label": "+", "E": 1.3141, "J": 2.64e-10}]},
        "mark": {"type": "text", "align": "left", "baseline": "alphabetic", "fontSize": 26, "font": "Liberation Serif", "fill": "#000"},
        "encoding": {
          "x": {"field": "E", "type": "quantitative", "scale": {"domain": [2.6235, 7], "nice": false, "zero": false}},
          "y": {"field": "J", "type": "quantitative", "scale": {"type": "log", "domain": [1e-11, 1e-6], "nice": false}},
          "text": {"field": "label"}
        }
      }
    ]
  }
]
}
